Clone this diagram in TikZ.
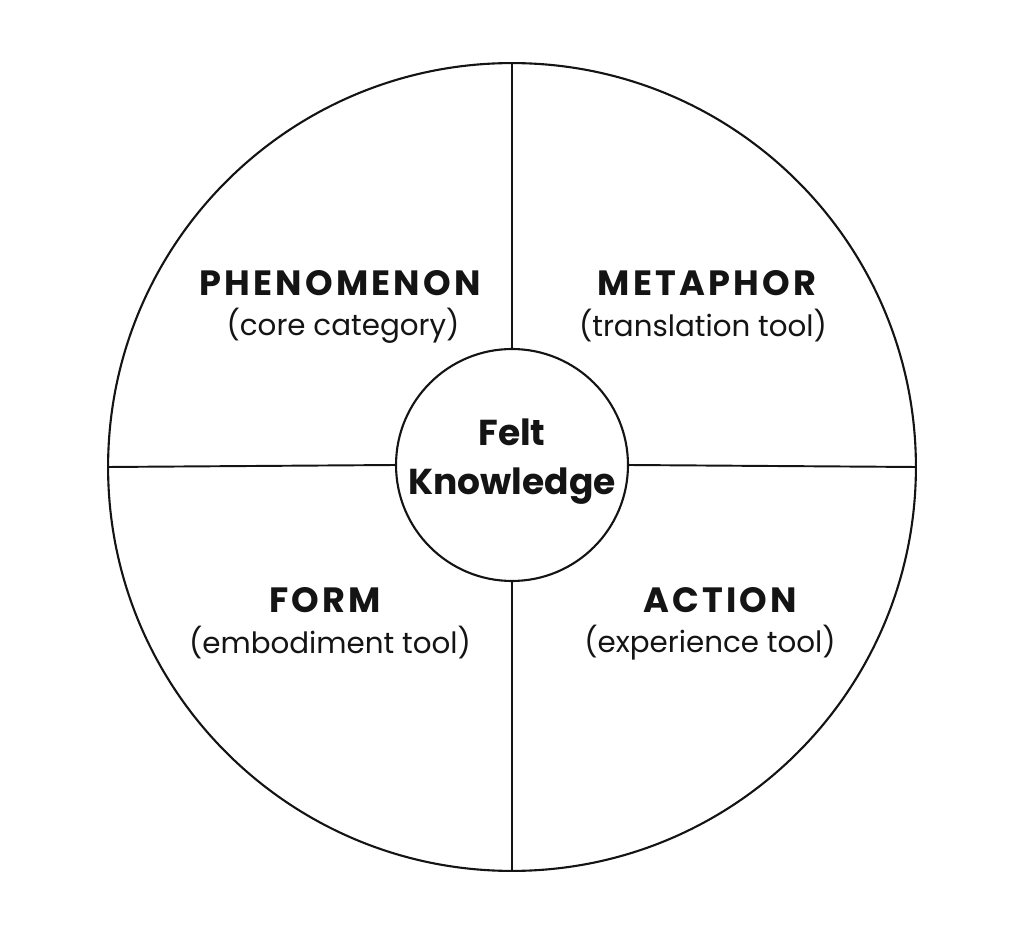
\documentclass[tikz,border=0pt]{standalone}
\usepackage{fontspec}
\setmainfont{Poppins}
\newfontfamily\headfont[LetterSpace=9]{Poppins}
\usetikzlibrary{positioning}
\definecolor{ink}{RGB}{20,20,20}
\tikzset{
  ring/.style={circle,draw=ink,line width=1.2pt,inner sep=0pt},
  divider/.style={draw=ink,line width=1.1pt},
  head/.style={font=\headfont\fontsize{20}{23}\selectfont\bfseries,text=ink,inner sep=0pt},
  sub/.style={font=\fontsize{16.7}{20}\selectfont,text=ink,inner sep=0pt},
}
\begin{document}
\begin{tikzpicture}[x=0.02cm,y=-0.02cm]
  \useasboundingbox (0,0) rectangle (1024,935);
  % outer wheel and hub
  \node[ring,minimum size=16.16cm] (outer) at (512,467) {};
  \node[ring,minimum size=4.64cm,fill=white] (felt) at (512,465) {};
  \node[font=\fontsize{20.5}{28}\selectfont\bfseries,text=ink,align=center] (hub) at (512,462)
    {Felt\\Knowledge};
  % spokes
  \draw[divider] (outer.north) -- (felt.north);
  \draw[divider] (felt.south) -- (outer.south);
  \draw[divider] (outer.west) -- (felt.west);
  \draw[divider] (felt.east) -- (outer.east);
  % quadrant labels
  \node[head] (phen) at (340,283) {PHENOMENON};
  \node[sub] (phensub) at (343,326) {(core category)};
  \node[head] (meta) at (707,283) {METAPHOR};
  \node[sub] (metasub) at (703,326) {(translation tool)};
  \node[head] (form) at (325,600) {FORM};
  \node[sub] (formsub) at (330,643) {(embodiment tool)};
  \node[head] (act) at (720,600) {ACTION};
  \node[sub] (actsub) at (710,643) {(experience tool)};
\end{tikzpicture}
\end{document}
